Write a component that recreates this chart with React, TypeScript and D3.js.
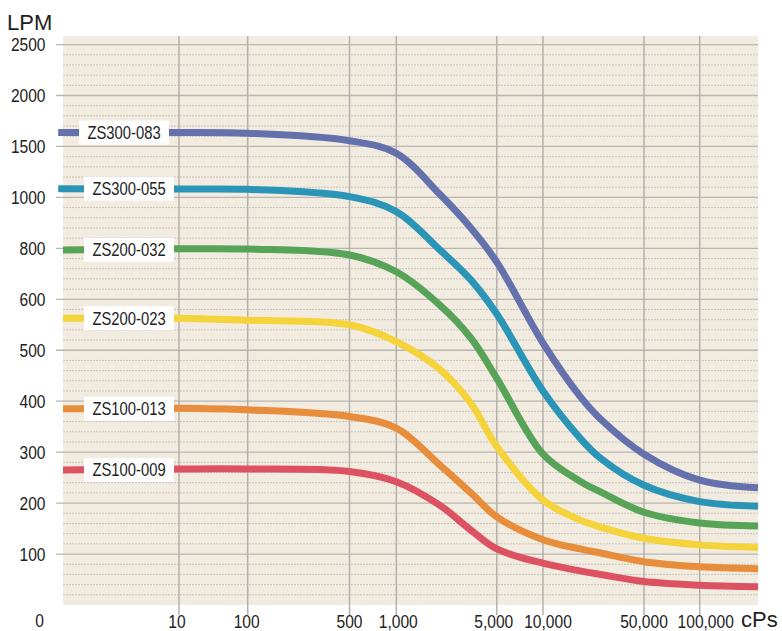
import React from 'react';
import * as d3 from 'd3';

// LPM vs viscosity (cPs) for each pump model
const models = ['ZS300-083', 'ZS300-055', 'ZS200-032', 'ZS200-023', 'ZS100-013', 'ZS100-009'];
const colors = ['#6571ad', '#2b95b7', '#57a459', '#f4d33b', '#e78d3b', '#dd5262'];

const viscosity = [10, 100, 500, 1000, 2000, 3300, 5000, 10000, 18000, 25000, 50000, 100000, 200000];
const startCps = [0.17, 0.17, 0.2, 0.2, 0.2, 0.2];
const startValues = [1637, 1085, 794, 563, 385, 265];

const lpm083 = [1637, 1629, 1556, 1433, 1033, 880, 746, 514, 410, 365, 296, 245, 230];
const lpm055 = [1082, 1079, 1007, 944, 795, 676, 571, 420, 328, 288, 235, 203, 194];
const lpm032 = [798, 797, 774, 708, 589, 524, 445, 296, 243, 222, 182, 161, 155];
const lpm023 = [563, 559, 550, 517, 463, 396, 311, 206, 167, 153, 131, 118, 113];
const lpm013 = [386, 383, 370, 347, 275, 220, 173, 128, 110, 102, 85, 75, 71];
const lpm009 = [267, 267, 262, 242, 196, 147, 110, 82, 67, 60, 46, 39, 36];
const seriesValues = [lpm083, lpm055, lpm032, lpm023, lpm013, lpm009];

const yTicks = [0, 100, 200, 300, 400, 500, 600, 800, 1000, 1500, 2000, 2500];
const xTicks = [10, 100, 500, 1000, 5000, 10000, 50000, 100000];
const xTickLabels = ['10', '100', '500', '1,000', '5,000', '10,000', '50,000', '100,000'];
const xBreaks = [0.2, 10, 100, 500, 1000, 5000, 10000, 50000, 100000, 200000];

const W = 782;
const H = 631;
const plot = { left: 63, right: 758, top: 36, bottom: 605 };
const yStep = 50.95;
const xLabelShift = [-2, -1, 0, 2, -3, 5, 0, 6];

const yScale = d3.scaleLinear()
  .domain(yTicks)
  .range(yTicks.map((_, i) => plot.bottom - i * yStep));

const xScale = d3.scaleLinear()
  .domain(xBreaks.map(v => Math.log10(v)))
  .range([63, 179, 247.7, 349.5, 396.3, 496.8, 543, 644, 699.7, 758]);

const px = (cps: number) => xScale(Math.log10(cps));

const numFont = '"Liberation Sans", Arial, sans-serif';

const App: React.FC = () => {
  const line = d3.line<[number, number]>()
    .x(d => px(d[0]))
    .y(d => yScale(d[1]))
    .curve(d3.curveCatmullRom.alpha(0.5));

  // dotted minor lines, 4 between each pair of ticks
  const minor: number[] = [];
  for (let i = 0; i < yTicks.length - 1; i++) {
    const a = yScale(yTicks[i]);
    const b = yScale(yTicks[i + 1]);
    for (let k = 1; k < 5; k++) minor.push(a + (b - a) * k / 5);
  }

  return (
    <svg width={W} height={H} style={{ position: 'absolute', left: 0, top: 0 }}>
      <rect x={0} y={0} width={W} height={H} fill="#ffffff" />
      <rect x={plot.left} y={plot.top} width={plot.right - plot.left} height={plot.bottom - plot.top} fill="#f2ebdf" />

      {minor.map((y, i) => (
        <line key={'m' + i} x1={plot.left} x2={plot.right} y1={y} y2={y}
          stroke="#c8c4bd" strokeWidth={1} strokeDasharray="2,1" />
      ))}

      {yTicks.filter(t => t > 0).map(t => (
        <line key={'h' + t} x1={56} x2={plot.right} y1={yScale(t)} y2={yScale(t)}
          stroke="#b9b6b2" strokeWidth={1.3} />
      ))}

      {xTicks.map(t => (
        <line key={'v' + t} x1={px(t)} x2={px(t)} y1={plot.top} y2={615}
          stroke="#b3b0ad" strokeWidth={1.5} />
      ))}

      {seriesValues.map((vals, i) => {
        const pts: [number, number][] = [[startCps[i], startValues[i]], ...viscosity.map((v, j) => [v, vals[j]] as [number, number])];
        return (
          <path key={'s' + i} d={line(pts) || ''} fill="none" stroke={colors[i]} strokeWidth={7} />
        );
      })}

      {models.map((m, i) => {
        const bx = i === 0 ? 79 : 84;
        const cy = yScale(startValues[i]);
        return (
          <g key={'l' + i}>
            <rect x={bx} y={cy - 12} width={90} height={24} fill="#ffffff" />
            <text transform={`translate(${bx + 45},${cy + 6.5}) scale(0.8,1)`} textAnchor="middle"
              fontFamily={numFont} fontSize={18.5} fill="#222">{m}</text>
          </g>
        );
      })}

      {yTicks.map(t => (
        <text key={'yl' + t}
          transform={`translate(${t === 0 ? 44 : 45.5},${(t === 0 ? 620 : yScale(t)) + 6.6}) scale(0.84,1)`}
          textAnchor="end" fontFamily={numFont} fontSize={18.5} fill="#222">{t}</text>
      ))}

      {xTicks.map((t, i) => (
        <text key={'xl' + t} transform={`translate(${px(t) + xLabelShift[i]},627.5) scale(0.82,1)`}
          textAnchor="middle" fontFamily={numFont} fontSize={19} fill="#222">{xTickLabels[i]}</text>
      ))}

      <text x={7} y={30} fontFamily={numFont} fontSize={22} fill="#222">LPM</text>
      <text x={741} y={627} fontFamily={numFont} fontSize={22} fill="#222">cPs</text>
    </svg>
  );
};

export default App;
